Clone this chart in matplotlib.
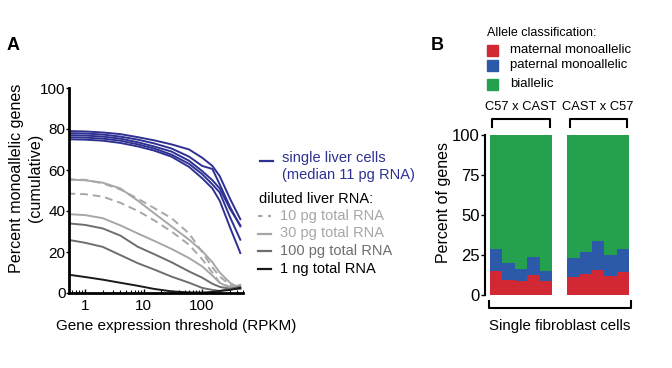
import numpy as np
import matplotlib
matplotlib.use("Agg")
import matplotlib.pyplot as plt
from matplotlib.patches import Rectangle
from matplotlib.lines import Line2D

plt.rcParams['font.family'] = ['Liberation Sans', 'DejaVu Sans']

# Panel A: cumulative % monoallelic genes vs expression threshold (RPKM)
thresh = [0.5, 1, 2, 4, 8, 15, 30, 60, 100, 150, 200, 300, 450]

single_cells = [
    [79, 78.8, 78.3, 77.5, 76, 74.5, 72.5, 70, 66, 62, 57, 46, 36],
    [78, 77.8, 77.3, 76.3, 74.8, 73, 70.5, 66.5, 62, 60.5, 53, 42, 32.5],
    [77, 76.8, 76.3, 75.3, 73.5, 71.5, 69, 64.5, 59.5, 55, 51, 41, 33],
    [76, 75.8, 75.3, 74.3, 72.5, 70.5, 67.5, 63, 58, 53, 49, 37, 26],
    [75, 74.8, 74.3, 73.2, 71.5, 69.5, 66.5, 61.5, 56, 51, 45, 32, 19.5],
]
rna_10pg = [
    [55.5, 55.2, 53.5, 50.5, 46, 41.5, 36.5, 29, 20, 12.5, 8, 4, 3],
    [48.5, 48.2, 47, 44, 40, 35.5, 30, 23.5, 16.5, 10, 5, 3, 3],
]
rna_30pg = [
    [55.3, 55, 53.8, 51, 45, 39, 32.5, 26, 20.5, 15, 10, 5, 2],
    [38.5, 38, 36.5, 33, 29, 25.5, 21.5, 17, 13, 8.5, 5, 2.5, 4],
]
rna_100pg = [
    [34, 33.2, 31.5, 28, 22.5, 19, 15, 10.5, 7.5, 4.5, 3, 2, 2],
    [26, 24.5, 22.5, 18.5, 14.5, 11.5, 8, 5, 2.5, 1.5, 1, 2, 3],
]
rna_1ng = [9, 7.8, 6.5, 5, 3.5, 2, 0.8, 0.3, 0.2, 0.5, 1, 1.5, 2.5]

# Panel B: allele classification per single fibroblast cell (cumulative %)
cross_labels = ["C57 x CAST", "CAST x C57"]
maternal = [[15, 9.5, 8.7, 12.5, 8.7], [11.2, 13.3, 15.8, 12.1, 14.6]]
paternal_top = [[28.8, 20.2, 16.3, 23.7, 15.2], [22.9, 26.9, 33.7, 25, 28.8]]

c_blue = "#2e3192"
c_light = "#a7a7a7"
c_mid = "#6e6e6e"
c_dark = "#1a1a1a"
c_red = "#d12834"
c_pat = "#2c5aa8"
c_bi = "#24a04e"

fig = plt.figure(figsize=(6.72, 3.68), dpi=100)

# ---------- panel A ----------
axA = fig.add_axes([69/672, 1-293/368, 174/672, 205/368])
for y in single_cells:
    axA.plot(thresh, y, color=c_blue, lw=1.4)
for y in rna_10pg:
    axA.plot(thresh, y, color=c_light, lw=1.4, ls=(0, (4, 2.5)))
for y in rna_30pg:
    axA.plot(thresh, y, color=c_light, lw=1.4)
for y in rna_100pg:
    axA.plot(thresh, y, color=c_mid, lw=1.4)
axA.plot(thresh, rna_1ng, color=c_dark, lw=1.4)

axA.set_xscale("log")
axA.set_xlim(0.53, 500)
axA.set_ylim(0, 100)
axA.set_yticks([0, 20, 40, 60, 80, 100])
axA.set_xticks([1, 10, 100])
axA.set_xticklabels(["1", "10", "100"])
for s in ["top", "right"]:
    axA.spines[s].set_visible(False)
for s in ["left", "bottom"]:
    axA.spines[s].set_linewidth(2)
axA.tick_params(axis="x", which="major", direction="in", length=3, width=1, labelsize=11, pad=4)
axA.tick_params(axis="x", which="minor", direction="in", length=2, width=0.8)
axA.tick_params(axis="y", direction="out", length=2, width=1, labelsize=11, pad=0.5)
axA.set_xlabel("Gene expression threshold (RPKM)", fontsize=11)
axA.xaxis.set_label_coords(0.615, -0.16)
axA.xaxis.label.set_va("center")
# two-line y label, drawn as two texts
axA.text(-0.30, 0.56, "Percent monoallelic genes", rotation=90, fontsize=11.6,
         ha="center", va="center", transform=axA.transAxes)
axA.text(-0.19, 0.56, "(cumulative)", rotation=90, fontsize=11.6,
         ha="center", va="center", transform=axA.transAxes)

# legend A
fs_leg = 10.5
fig.add_artist(Line2D([260/672, 273/672], [1-161/368]*2, color=c_blue, lw=1.6))
fig.text(282/672, 1-158/368, "single liver cells", color=c_blue, fontsize=fs_leg, va="center")
fig.text(282/672, 1-175/368, "(median 11 pg RNA)", color=c_blue, fontsize=fs_leg, va="center")
fig.text(259/672, 1-199/368, "diluted liver RNA:", color="black", fontsize=fs_leg, va="center")
entries = [("10 pg total RNA", c_light, (0, (2, 2.5))),
           ("30 pg total RNA", c_light, "-"),
           ("100 pg total RNA", c_mid, "-"),
           ("1 ng total RNA", c_dark, "-")]
for i, (lab, col, ls) in enumerate(entries):
    yy = 1 - (216 + i*17.5)/368
    fig.add_artist(Line2D([258/672, 271/672], [yy, yy], color=col, lw=1.6, ls=ls))
    fig.text(280/672, yy, lab, color=col if col != c_dark else "black", fontsize=fs_leg, va="center")

fig.text(7/672, 1-45/368, "A", fontsize=13, fontweight="bold", va="center")
fig.text(431/672, 1-45/368, "B", fontsize=13, fontweight="bold", va="center")

# ---------- panel B ----------
axB = fig.add_axes([485/672, 1-295/368, 148/672, 160/368])
offsets = [0, 6.2]
for g in range(2):
    xs = np.arange(5) + offsets[g]
    mat = np.array(maternal[g])
    pat = np.array(paternal_top[g])
    axB.bar(xs, mat, width=1.0, color=c_red, linewidth=0)
    axB.bar(xs, pat - mat, bottom=mat, width=1.0, color=c_pat, linewidth=0)
    axB.bar(xs, 100 - pat, bottom=pat, width=1.0, color=c_bi, linewidth=0)
    # bracket above group
    x0, x1 = xs[0] - 0.3, xs[-1] + 0.3
    axB.plot([x0, x0, x1, x1], [105, 110, 110, 105], color="black", lw=1.5, clip_on=False)
    axB.text((x0 + x1)/2, 114, cross_labels[g], ha="center", va="bottom", fontsize=9.3)

axB.plot([-0.6, -0.6, 10.8, 10.8], [-3.5, -8.3, -8.3, -3.5], color="black", lw=1.5, clip_on=False)
axB.text(5.1, -15, "Single fibroblast cells", ha="center", va="top", fontsize=10.8)

axB.set_xlim(-0.9, 11.0)
axB.set_ylim(0, 100)
axB.set_yticks([0, 25, 50, 75, 100])
axB.set_xticks([])
for s in ["top", "right", "bottom"]:
    axB.spines[s].set_visible(False)
axB.spines["left"].set_linewidth(1.5)
axB.tick_params(axis="y", direction="out", length=3, width=1, labelsize=12, pad=1)
axB.set_ylabel("Percent of genes", fontsize=11.5)
axB.yaxis.set_label_coords(-0.23, 0.58)

# legend B
fig.text(487/672, 1-33/368, "Allele classification:", fontsize=9, va="center")
for lab, col, yp in [("maternal monoallelic", c_red, 50),
                     ("paternal monoallelic", c_pat, 65),
                     ("biallelic", c_bi, 84)]:
    fig.add_artist(Rectangle((487/672, 1-(yp+5.5)/368), 11/672, 11/368, color=col,
                             transform=fig.transFigure))
    fig.text(510/672, 1-yp/368, lab, fontsize=9.5, va="center")

fig.savefig("out.png", dpi=100)
